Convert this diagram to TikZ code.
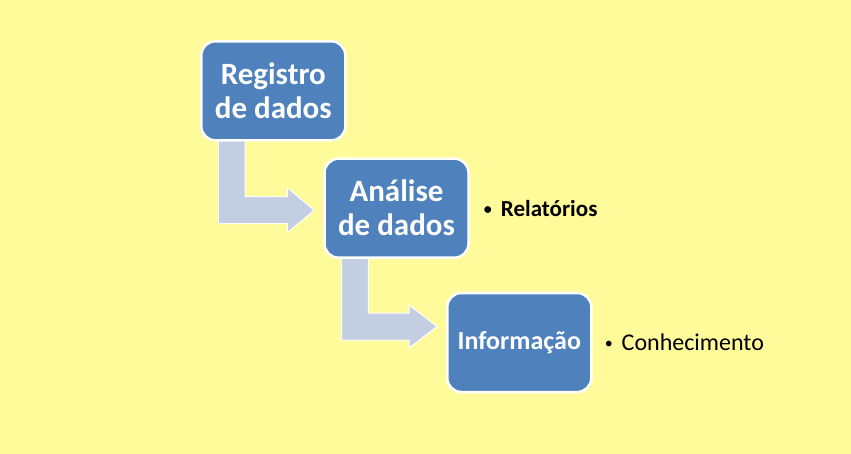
\documentclass[tikz,border=0pt]{standalone}
\usepackage{fontspec}
\setmainfont{Carlito}
\usetikzlibrary{positioning, calc}
\usepackage{xcolor}
\definecolor{paper}{HTML}{FFFB9B}
\definecolor{stageblue}{HTML}{4F81BD}
\definecolor{flowgray}{HTML}{C4CEE3}
\pgfdeclarelayer{under}
\pgfsetlayers{under,main}
\newcommand{\dotmark}{\raisebox{2pt}{\fontsize{16}{16}\selectfont •}\hspace{9pt}}

\begin{document}
\begin{tikzpicture}[x=1pt, y=-1pt,
    stage/.style={draw=white, line width=2.5pt, fill=stageblue, rounded corners=14pt,
        minimum width=144pt, minimum height=99pt, align=center, text=white,
        font=\bfseries\fontsize{31}{34}\selectfont},
    flow/.style={fill=flowgray, draw=white, line width=1pt},
    note/.style={inner sep=0pt, text=black, font=\fontsize{24}{28}\selectfont}]
    \node[stage] (reg) at (273.3,90.8) {Registro\\de dados};
    \node[stage] (ana) at (396.5,208.2) {Análise\\de dados};
    \node[stage, font=\bfseries\fontsize{26}{30}\selectfont] (inf) at (519.3,342.5) {Informação};
    \node[note, font=\bfseries\fontsize{23}{26}\selectfont, right=14pt of ana] (rel) {\dotmark Relatórios};
    \node[note, right=12pt of inf] (con) {\dotmark Conhecimento};
    \begin{pgfonlayer}{under}
        \fill[paper] (0,0) rectangle (851,454);
        \coordinate (t1) at ($(ana.west)+(-9,2)$);
        \coordinate (t2) at ($(inf.west)+(-9,-16)$);
        \path[flow] ($(reg.south west)+(18.3,-5)$) |- ($(t1)+(-27,13.5)$) -- ++(0,9) -- (t1)
            -- ++(-27,-22.5) -- ++(0,9) -| ($(reg.south west)+(45,-5)$) -- cycle;
        \path[flow] ($(ana.south west)+(18.3,-5)$) |- ($(t2)+(-28,13.5)$) -- ++(0,8) -- (t2)
            -- ++(-28,-21.5) -- ++(0,8) -| ($(ana.south west)+(45,-5)$) -- cycle;
    \end{pgfonlayer}
\end{tikzpicture}
\end{document}
